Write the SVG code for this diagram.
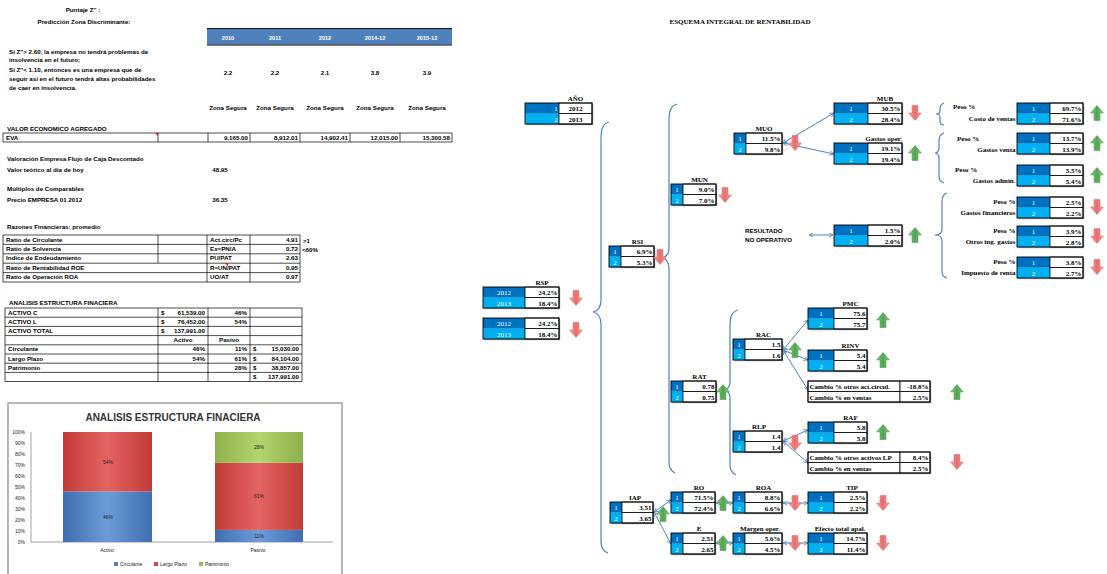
<svg xmlns="http://www.w3.org/2000/svg" width="1107" height="574" viewBox="0 0 1107 574">
<style>
.l{font-family:"Liberation Sans",Arial,sans-serif;font-weight:bold;font-size:6.2px;fill:#000}
.ls{font-family:"Liberation Sans",Arial,sans-serif;font-size:5px;fill:#222}
.t{font-family:"Liberation Serif","Times New Roman",serif;font-weight:bold;font-size:7px;fill:#000}
.v{font-family:"Liberation Serif","Times New Roman",serif;font-weight:bold;font-size:7px;fill:#000;text-anchor:end}
.n{font-family:"Liberation Serif","Times New Roman",serif;font-size:7px;fill:#fff;text-anchor:middle}
.c1{fill:#0070c0}.c2{fill:#00b0f0}
.bx{fill:#fff;stroke:#000;stroke-width:0.8}
.ol{fill:none;stroke:#000;stroke-width:0.9}
.sh{fill:#a6a6a6}
.g{fill:none;stroke:#000;stroke-width:0.7}
.cn{fill:none;stroke:#4f81bd;stroke-width:1;marker-start:url(#ah);marker-end:url(#ah)}
.br{fill:none;stroke:#4f81bd;stroke-width:1.2}
.mid{text-anchor:middle}.end{text-anchor:end}
</style>
<defs>
<marker id="ah" viewBox="0 0 8 8" refX="7" refY="4" markerWidth="5" markerHeight="5" orient="auto-start-reverse"><path d="M0,0.5L7,4L0,7.5" fill="none" stroke="#4f81bd" stroke-width="1.3"/></marker>
<linearGradient id="rg" x1="0" x2="1"><stop offset="0" stop-color="#f4a3a3"/><stop offset="0.5" stop-color="#e86c6c"/><stop offset="1" stop-color="#f4a3a3"/></linearGradient>
<linearGradient id="gg" x1="0" x2="1"><stop offset="0" stop-color="#8fd08f"/><stop offset="0.5" stop-color="#4fa34f"/><stop offset="1" stop-color="#8fd08f"/></linearGradient>
<path id="dn" d="M-3,-7.5H3V0H6.5L0,7.5L-6.5,0H-3Z" fill="url(#rg)" stroke="#d46a6a" stroke-width="0.5"/>
<path id="up" d="M-3,7.5H3V0H6.5L0,-7.5L-6.5,0H-3Z" fill="url(#gg)" stroke="#4b8f4b" stroke-width="0.5"/>
<linearGradient id="bb" x1="0" x2="1"><stop offset="0" stop-color="#3f6fb0"/><stop offset="0.5" stop-color="#6c9bd8"/><stop offset="1" stop-color="#3f6fb0"/></linearGradient>
<linearGradient id="rb" x1="0" x2="1"><stop offset="0" stop-color="#c23b38"/><stop offset="0.5" stop-color="#e36461"/><stop offset="1" stop-color="#c23b38"/></linearGradient>
<linearGradient id="gb" x1="0" x2="1"><stop offset="0" stop-color="#8cb04b"/><stop offset="0.5" stop-color="#b3d46e"/><stop offset="1" stop-color="#8cb04b"/></linearGradient>
</defs>
<rect width="1107" height="574" fill="#fff"/>

<g id="zscore">
<text class="l" x="83" y="12" text-anchor="middle">Puntaje Z'' :</text>
<text class="l" x="84" y="24" text-anchor="middle">Predicción Zona Discriminante:</text>
<text class="l" x="9" y="54">Si Z''&gt; 2.60, la empresa no tendrá problemas de</text>
<text class="l" x="9" y="62">insolvencia en el futuro;</text>
<text class="l" x="9" y="72">Si Z''&lt; 1.10, entonces es una empresa que de</text>
<text class="l" x="9" y="81">seguir así en el futuro tendrá altas probabilidades</text>
<text class="l" x="9" y="90">de caer en insolvencia.</text>
<rect x="207" y="29" width="245" height="15.5" fill="#4f81bd"/>
<line x1="207" y1="28.6" x2="452" y2="28.6" stroke="#000" stroke-width="1"/>
<line x1="207" y1="45" x2="452" y2="45" stroke="#000" stroke-width="1"/>
<g font-family="Liberation Sans,Arial,sans-serif" font-size="5.6" font-weight="bold" fill="#fff" text-anchor="middle">
<text x="228" y="40">2010</text><text x="275" y="40">2011</text><text x="325" y="40">2012</text><text x="375" y="40">2014-12</text><text x="427" y="40">2015-12</text>
</g>
<g class="l" text-anchor="middle">
<text x="228" y="75">2.2</text><text x="275" y="75">2.2</text><text x="325" y="75">2.1</text><text x="375" y="75">3.8</text><text x="427" y="75">3.9</text>
<text x="228" y="110">Zona Segura</text><text x="275" y="110">Zona Segura</text><text x="325" y="110">Zona Segura</text><text x="375" y="110">Zona Segura</text><text x="427" y="110">Zona Segura</text>
</g>
</g>

<g id="eva">
<text class="l" x="7" y="131">VALOR ECONOMICO AGREGADO</text>
<rect class="g" x="3" y="133" width="449" height="9"/>
<path class="g" d="M158,133V142M208,133V142M250,133V142M300,133V142M350,133V142M400,133V142"/>
<path d="M155,133H158V136Z" fill="#e00"/>
<text class="l" x="6" y="140">EVA</text>
<g class="l" text-anchor="end" font-size="5.6">
<text x="248" y="140">9,165.00</text><text x="298" y="140">8,912.01</text><text x="348" y="140">14,902.41</text><text x="398" y="140">12,015.00</text><text x="450" y="140">15,300.58</text>
</g>
</g>

<g id="valoracion">
<text class="l" x="7" y="161">Valoración Empresa Flujo de Caja Descontado</text>
<text class="l" x="7" y="172">Valor teórico al día de hoy</text>
<text class="l" x="220" y="172" text-anchor="middle">48.95</text>
<text class="l" x="7" y="191">Múltiplos de Comparables</text>
<text class="l" x="7" y="202">Precio EMPRESA 01 2012</text>
<text class="l" x="220" y="202" text-anchor="middle">36.35</text>
</g>

<g id="ratios">
<text class="l" x="7" y="229" font-size="4.6">Razones Financieras: promedio</text>
<rect class="g" x="3" y="235" width="297" height="47"/>
<path class="g" d="M3,244.4H300M3,253.8H300M3,263.2H300M3,272.6H300M158,235V263.2M207,235V282M250,235V282"/>
<path d="M225,263.2H228V266.2Z" fill="#e00"/>
<g class="l" font-size="5">
<text x="6" y="241.6">Ratio de Circulante</text><text x="6" y="251">Ratio de Solvencia</text><text x="6" y="260.4">Indice de Endeudamiento</text><text x="6" y="269.8">Ratio de Rentabilidad ROE</text><text x="6" y="279.2">Ratio de Operación ROA</text>
<text x="210" y="241.6">Act.circ/Pc</text><text x="210" y="251">Ex=PN/A</text><text x="210" y="260.4">PU/PAT</text><text x="210" y="269.8">R=UN/PAT</text><text x="210" y="279.2">UO/AT</text>
</g>
<g class="l" font-size="5" text-anchor="end">
<text x="298" y="241.6">4.91</text><text x="298" y="251">0.72</text><text x="298" y="260.4">2.63</text><text x="298" y="269.8">0.95</text><text x="298" y="279.2">0.97</text>
</g>
<text class="l" x="303" y="243" font-size="5">&gt;1</text>
<text class="l" x="302" y="252" font-size="5">&lt;60%</text>
</g>

<g id="estructura">
<text class="l" x="9" y="305" font-size="5">ANALISIS ESTRUCTURA FINACIERA</text>
<rect class="g" x="5" y="308" width="297" height="73.6"/>
<path class="g" d="M5,317.2H302M5,326.4H302M5,335.6H302M5,344.8H302M5,354H302M5,363.2H302M5,372.4H302M158,308V381.6M208,308V381.6M250,308V381.6"/>
<g class="l" font-size="5">
<text x="8" y="314.6">ACTIVO C</text><text x="8" y="323.8">ACTIVO L</text><text x="8" y="333">ACTIVO TOTAL</text>
<text x="8" y="351.4">Circulante</text><text x="8" y="360.6">Largo Plazo</text><text x="8" y="369.8">Patrimonio</text>
<text x="161" y="314.6">$</text><text x="161" y="323.8">$</text><text x="161" y="333">$</text>
<text x="253" y="351.4">$</text><text x="253" y="360.6">$</text><text x="253" y="369.8">$</text><text x="253" y="379">$</text>
<text x="183" y="342.2" text-anchor="middle">Activo</text><text x="229" y="342.2" text-anchor="middle">Pasivo</text>
</g>
<g class="l" font-size="5" text-anchor="end">
<text x="205" y="314.6">61,539.00</text><text x="205" y="323.8">76,452.00</text><text x="205" y="333">137,991.00</text>
<text x="247" y="314.6">46%</text><text x="247" y="323.8">54%</text>
<text x="205" y="351.4">46%</text><text x="205" y="360.6">54%</text>
<text x="247" y="351.4">11%</text><text x="247" y="360.6">61%</text><text x="247" y="369.8">28%</text>
<text x="299" y="351.4">15,030.00</text><text x="299" y="360.6">84,104.00</text><text x="299" y="369.8">38,857.00</text><text x="299" y="379">137,991.00</text>
</g>
</g>

<g id="chart">
<rect x="8" y="403" width="334" height="180" fill="#fff" stroke="#a6a6a6" stroke-width="1.6"/>
<text x="173" y="421" text-anchor="middle" font-family="Liberation Sans,Arial,sans-serif" font-size="10" font-weight="bold" fill="#333">ANALISIS ESTRUCTURA FINACIERA</text>
<path d="M31,432V542H333" fill="none" stroke="#888" stroke-width="0.8"/>
<g class="ls" font-size="4.8" text-anchor="end">
<text x="25" y="434">100%</text><text x="25" y="445">90%</text><text x="25" y="456">80%</text><text x="25" y="467">70%</text><text x="25" y="478">60%</text><text x="25" y="489">50%</text><text x="25" y="500">40%</text><text x="25" y="511">30%</text><text x="25" y="522">20%</text><text x="25" y="533">10%</text><text x="25" y="544">0%</text>
</g>
<rect x="63" y="491.4" width="89" height="50.6" fill="url(#bb)"/>
<rect x="63" y="432" width="89" height="59.4" fill="url(#rb)"/>
<rect x="215" y="529.9" width="88" height="12.1" fill="url(#bb)"/>
<rect x="215" y="462.8" width="88" height="67.1" fill="url(#rb)"/>
<rect x="215" y="432" width="88" height="30.8" fill="url(#gb)"/>
<g class="ls" font-size="5" text-anchor="middle" fill="#222">
<text x="108" y="519">46%</text><text x="108" y="464">54%</text>
<text x="259" y="538">11%</text><text x="259" y="498">61%</text><text x="259" y="449">28%</text>
<text x="107" y="552">Activo</text><text x="258" y="552">Pasivo</text>
</g>
<rect x="114" y="562" width="4" height="4" fill="#4f81bd"/><text class="ls" x="120" y="566" font-size="4.8">Circulante</text>
<rect x="154" y="562" width="4" height="4" fill="#c0504d"/><text class="ls" x="160" y="566" font-size="4.8">Largo Plazo</text>
<rect x="199" y="562" width="4" height="4" fill="#9bbb59"/><text class="ls" x="205" y="566" font-size="4.8">Patrimonio</text>
</g>

<text class="t" x="740" y="24" text-anchor="middle" font-size="8.2">ESQUEMA INTEGRAL DE RENTABILIDAD</text>

<g id="connectors">
<path class="br" d="M609,122C602,124 601,130 601,140L601,300C601,308 598,311 593,312C598,313 601,316 601,324L601,540C601,548 603,551 608,553"/>
<path class="br" d="M677,104C670,106 669,112 669,122L669,248C669,254 666,257 662,258C666,259 669,262 669,268L669,462C669,468 671,471 675,473"/>
<path class="br" d="M738,310C731,312 730,318 730,326L730,382C730,387 728,389 724,390C728,391 730,393 730,398L730,465C730,470 732,473 736,475"/>
<path class="br" d="M944,103C941,104 940,106 940,109L940,111C940,113 938,114 936,114C938,114 940,115 940,117L940,121C940,123 941,125 944,125"/>
<path class="br" d="M944,133C940,134 939,137 939,141L939,148C939,151 937,153 935,153C937,153 939,155 939,158L939,176C939,180 940,182 944,183"/>
<path class="br" d="M947,193C943,194 942,197 942,202L942,229C942,233 939,235 935,235C939,235 942,237 942,241L942,270C942,275 943,277 947,278"/>
<line class="cn" x1="783" y1="143" x2="834" y2="113"/>
<line class="cn" x1="783" y1="143" x2="834" y2="154"/>
<line class="cn" x1="809" y1="235" x2="833" y2="235"/>
<line class="cn" x1="783" y1="350" x2="808" y2="320"/>
<line class="cn" x1="783" y1="350" x2="808" y2="360"/>
<line class="cn" x1="783" y1="350" x2="808" y2="390"/>
<line class="cn" x1="783" y1="441" x2="808" y2="430"/>
<line class="cn" x1="783" y1="441" x2="808" y2="463"/>
<line class="cn" x1="654" y1="512" x2="671" y2="500"/>
<line class="cn" x1="654" y1="512" x2="671" y2="544"/>
<line class="cn" x1="716" y1="503" x2="733" y2="503"/>
<line class="cn" x1="783" y1="503" x2="808" y2="503"/>
<line class="cn" x1="716" y1="543" x2="733" y2="543"/>
<line class="cn" x1="783" y1="543" x2="808" y2="543"/>
</g>

<g id="anio" transform="translate(525,103)">
<rect class="sh" x="1.2" y="1.2" width="67" height="21"/>
<rect class="c1" width="34" height="10.5"/><rect class="c2" y="10.5" width="34" height="10.5"/>
<rect class="bx" x="34" width="33" height="10.5"/><rect class="bx" x="34" y="10.5" width="33" height="10.5"/>
<rect class="ol" width="67" height="21"/>
<text class="n" x="31" y="8" text-anchor="end">1</text><text class="n" x="31" y="18.5" text-anchor="end">2</text>
<text class="t mid" x="50.5" y="-2.5">AÑO</text>
<text class="t mid" x="50.5" y="8">2012</text><text class="t mid" x="50.5" y="18.5">2013</text>
</g>

<g id="muo" transform="translate(734,133)">
<rect class="sh" x="1.2" y="1.2" width="48" height="21"/>
<rect class="c1" width="12" height="10.5"/><rect class="c2" y="10.5" width="12" height="10.5"/>
<rect class="bx" x="12" width="36" height="10.5"/><rect class="bx" x="12" y="10.5" width="36" height="10.5"/>
<rect class="ol" width="48" height="21"/>
<text class="n" x="6" y="8">1</text><text class="n" x="6" y="18.5">2</text>
<text class="t mid" x="30" y="-2.5">MUO</text>
<text class="v" x="46.5" y="8">11.5%</text><text class="v" x="46.5" y="18.5">9.8%</text>
<use href="#dn" x="61" y="10"/>
</g>

<g id="mub" transform="translate(834,103)">
<rect class="sh" x="1.2" y="1.2" width="68" height="21"/>
<rect class="c1" width="34" height="10.5"/><rect class="c2" y="10.5" width="34" height="10.5"/>
<rect class="bx" x="34" width="34" height="10.5"/><rect class="bx" x="34" y="10.5" width="34" height="10.5"/>
<rect class="ol" width="68" height="21"/>
<text class="n" x="17" y="8">1</text><text class="n" x="17" y="18.5">2</text>
<text class="t mid" x="51" y="-2.5">MUB</text>
<text class="v" x="66.5" y="8">30.5%</text><text class="v" x="66.5" y="18.5">28.4%</text>
<use href="#dn" x="81" y="10"/>
</g>

<g id="gastos-oper" transform="translate(834,143)">
<rect class="sh" x="1.2" y="1.2" width="68" height="21"/>
<rect class="c1" width="34" height="10.5"/><rect class="c2" y="10.5" width="34" height="10.5"/>
<rect class="bx" x="34" width="34" height="10.5"/><rect class="bx" x="34" y="10.5" width="34" height="10.5"/>
<rect class="ol" width="68" height="21"/>
<text class="n" x="17" y="8">1</text><text class="n" x="17" y="18.5">2</text>
<text class="t end" x="68" y="-2.5">Gastos oper.</text>
<text class="v" x="66.5" y="8">19.1%</text><text class="v" x="66.5" y="18.5">19.4%</text>
<use href="#up" x="81" y="10"/>
</g>

<g id="resultado-no-operativo" transform="translate(834,225)">
<text class="l" x="-89" y="8" font-size="5.4">RESULTADO</text>
<text class="l" x="-89" y="17" font-size="5.4">NO OPERATIVO</text>
<rect class="sh" x="1.2" y="1.2" width="68" height="21"/>
<rect class="c1" width="34" height="10.5"/><rect class="c2" y="10.5" width="34" height="10.5"/>
<rect class="bx" x="34" width="34" height="10.5"/><rect class="bx" x="34" y="10.5" width="34" height="10.5"/>
<rect class="ol" width="68" height="21"/>
<text class="n" x="17" y="8">1</text><text class="n" x="17" y="18.5">2</text>
<text class="v" x="66.5" y="8">1.5%</text><text class="v" x="66.5" y="18.5">2.0%</text>
<use href="#up" x="81" y="10"/>
</g>

<g id="costo-ventas" transform="translate(1017,103)">
<text class="t" x="-64" y="6">Peso %</text><text class="t end" x="-1.5" y="18">Costo de ventas</text>
<rect class="sh" x="1.2" y="1.2" width="66" height="21"/>
<rect class="c1" width="33" height="10.5"/><rect class="c2" y="10.5" width="33" height="10.5"/>
<rect class="bx" x="33" width="33" height="10.5"/><rect class="bx" x="33" y="10.5" width="33" height="10.5"/>
<rect class="ol" width="66" height="21"/>
<text class="n" x="16.5" y="8">1</text><text class="n" x="16.5" y="18.5">2</text>
<text class="v" x="64.5" y="8">69.7%</text><text class="v" x="64.5" y="18.5">71.6%</text>
<use href="#up" x="80" y="10"/>
</g>

<g id="gastos-venta" transform="translate(1017,133)">
<text class="t" x="-60" y="8">Peso %</text><text class="t end" x="-1.5" y="18.5">Gastos venta</text>
<rect class="sh" x="1.2" y="1.2" width="66" height="21"/>
<rect class="c1" width="33" height="10.5"/><rect class="c2" y="10.5" width="33" height="10.5"/>
<rect class="bx" x="33" width="33" height="10.5"/><rect class="bx" x="33" y="10.5" width="33" height="10.5"/>
<rect class="ol" width="66" height="21"/>
<text class="n" x="16.5" y="8">1</text><text class="n" x="16.5" y="18.5">2</text>
<text class="v" x="64.5" y="8">13.7%</text><text class="v" x="64.5" y="18.5">13.9%</text>
<use href="#up" x="80" y="10"/>
</g>

<g id="gastos-admin" transform="translate(1017,165)">
<text class="t" x="-62" y="7">Peso %</text><text class="t end" x="-1.5" y="18">Gastos admin.</text>
<rect class="sh" x="1.2" y="1.2" width="66" height="21"/>
<rect class="c1" width="33" height="10.5"/><rect class="c2" y="10.5" width="33" height="10.5"/>
<rect class="bx" x="33" width="33" height="10.5"/><rect class="bx" x="33" y="10.5" width="33" height="10.5"/>
<rect class="ol" width="66" height="21"/>
<text class="n" x="16.5" y="8">1</text><text class="n" x="16.5" y="18.5">2</text>
<text class="v" x="64.5" y="8">5.5%</text><text class="v" x="64.5" y="18.5">5.4%</text>
<use href="#up" x="80" y="10"/>
</g>

<g id="gastos-financieros" transform="translate(1017,197)">
<text class="t end" x="-1.5" y="7">Peso %</text><text class="t end" x="-1.5" y="18">Gastos financieros</text>
<rect class="sh" x="1.2" y="1.2" width="66" height="21"/>
<rect class="c1" width="33" height="10.5"/><rect class="c2" y="10.5" width="33" height="10.5"/>
<rect class="bx" x="33" width="33" height="10.5"/><rect class="bx" x="33" y="10.5" width="33" height="10.5"/>
<rect class="ol" width="66" height="21"/>
<text class="n" x="16.5" y="8">1</text><text class="n" x="16.5" y="18.5">2</text>
<text class="v" x="64.5" y="8">2.5%</text><text class="v" x="64.5" y="18.5">2.2%</text>
<use href="#dn" x="80" y="10"/>
</g>

<g id="otros-ing-gastos" transform="translate(1017,226)">
<text class="t end" x="-1.5" y="7">Peso %</text><text class="t end" x="-1.5" y="18">Otros ing. gastos</text>
<rect class="sh" x="1.2" y="1.2" width="66" height="21"/>
<rect class="c1" width="33" height="10.5"/><rect class="c2" y="10.5" width="33" height="10.5"/>
<rect class="bx" x="33" width="33" height="10.5"/><rect class="bx" x="33" y="10.5" width="33" height="10.5"/>
<rect class="ol" width="66" height="21"/>
<text class="n" x="16.5" y="8">1</text><text class="n" x="16.5" y="18.5">2</text>
<text class="v" x="64.5" y="8">3.9%</text><text class="v" x="64.5" y="18.5">2.8%</text>
<use href="#dn" x="80" y="10"/>
</g>

<g id="impuesto-renta" transform="translate(1017,257)">
<text class="t end" x="-1.5" y="7">Peso %</text><text class="t end" x="-1.5" y="18">Impuesto de renta</text>
<rect class="sh" x="1.2" y="1.2" width="66" height="21"/>
<rect class="c1" width="33" height="10.5"/><rect class="c2" y="10.5" width="33" height="10.5"/>
<rect class="bx" x="33" width="33" height="10.5"/><rect class="bx" x="33" y="10.5" width="33" height="10.5"/>
<rect class="ol" width="66" height="21"/>
<text class="n" x="16.5" y="8">1</text><text class="n" x="16.5" y="18.5">2</text>
<text class="v" x="64.5" y="8">3.8%</text><text class="v" x="64.5" y="18.5">2.7%</text>
<use href="#dn" x="80" y="10"/>
</g>

<g id="mun" transform="translate(671,184)">
<rect class="sh" x="1.2" y="1.2" width="45" height="21"/>
<rect class="c1" width="12" height="10.5"/><rect class="c2" y="10.5" width="12" height="10.5"/>
<rect class="bx" x="12" width="33" height="10.5"/><rect class="bx" x="12" y="10.5" width="33" height="10.5"/>
<rect class="ol" width="45" height="21"/>
<text class="n" x="6" y="8">1</text><text class="n" x="6" y="18.5">2</text>
<text class="t mid" x="28.5" y="-2.5">MUN</text>
<text class="v" x="43.5" y="8">9.0%</text><text class="v" x="43.5" y="18.5">7.0%</text>
<use href="#dn" x="54" y="11"/>
</g>

<g id="rsi" transform="translate(609,246)">
<rect class="sh" x="1.2" y="1.2" width="45" height="21"/>
<rect class="c1" width="12" height="10.5"/><rect class="c2" y="10.5" width="12" height="10.5"/>
<rect class="bx" x="12" width="33" height="10.5"/><rect class="bx" x="12" y="10.5" width="33" height="10.5"/>
<rect class="ol" width="45" height="21"/>
<text class="n" x="6" y="8">1</text><text class="n" x="6" y="18.5">2</text>
<text class="t mid" x="28.5" y="-2.5">RSI</text>
<text class="v" x="43.5" y="8">6.9%</text><text class="v" x="43.5" y="18.5">5.3%</text>
<use href="#dn" x="51" y="11"/>
</g>

<g id="rsp" transform="translate(483,287)">
<rect class="sh" x="1.2" y="1.2" width="76" height="21"/>
<rect class="c1" width="42" height="10.5"/><rect class="c2" y="10.5" width="42" height="10.5"/>
<rect class="bx" x="42" width="34" height="10.5"/><rect class="bx" x="42" y="10.5" width="34" height="10.5"/>
<rect class="ol" width="76" height="21"/>
<text class="n" x="21" y="8">2012</text><text class="n" x="21" y="18.5">2013</text>
<text class="t mid" x="59" y="-2.5">RSP</text>
<text class="v" x="74.5" y="8">24.2%</text><text class="v" x="74.5" y="18.5">18.4%</text>
<use href="#dn" x="93" y="11"/>
</g>

<g id="rsp-2" transform="translate(483,318)">
<rect class="sh" x="1.2" y="1.2" width="76" height="21"/>
<rect class="c1" width="42" height="10.5"/><rect class="c2" y="10.5" width="42" height="10.5"/>
<rect class="bx" x="42" width="34" height="10.5"/><rect class="bx" x="42" y="10.5" width="34" height="10.5"/>
<rect class="ol" width="76" height="21"/>
<text class="n" x="21" y="8">2012</text><text class="n" x="21" y="18.5">2013</text>
<text class="v" x="74.5" y="8">24.2%</text><text class="v" x="74.5" y="18.5">18.4%</text>
<use href="#dn" x="93" y="12"/>
</g>

<g id="rat" transform="translate(671,381)">
<rect class="sh" x="1.2" y="1.2" width="45" height="21"/>
<rect class="c1" width="12" height="10.5"/><rect class="c2" y="10.5" width="12" height="10.5"/>
<rect class="bx" x="12" width="33" height="10.5"/><rect class="bx" x="12" y="10.5" width="33" height="10.5"/>
<rect class="ol" width="45" height="21"/>
<text class="n" x="6" y="8">1</text><text class="n" x="6" y="18.5">2</text>
<text class="t mid" x="28.5" y="-2.5">RAT</text>
<text class="v" x="43.5" y="8">0.78</text><text class="v" x="43.5" y="18.5">0.75</text>
<use href="#up" x="52" y="11"/>
</g>

<g id="rac" transform="translate(733,339)">
<rect class="sh" x="1.2" y="1.2" width="49" height="21"/>
<rect class="c1" width="12" height="10.5"/><rect class="c2" y="10.5" width="12" height="10.5"/>
<rect class="bx" x="12" width="37" height="10.5"/><rect class="bx" x="12" y="10.5" width="37" height="10.5"/>
<rect class="ol" width="49" height="21"/>
<text class="n" x="6" y="8">1</text><text class="n" x="6" y="18.5">2</text>
<text class="t mid" x="30.5" y="-2.5">RAC</text>
<text class="v" x="47.5" y="8">1.5</text><text class="v" x="47.5" y="18.5">1.6</text>
<use href="#up" x="62" y="11"/>
</g>

<g id="pmc" transform="translate(808,308)">
<rect class="sh" x="1.2" y="1.2" width="59" height="21"/>
<rect class="c1" width="26" height="10.5"/><rect class="c2" y="10.5" width="26" height="10.5"/>
<rect class="bx" x="26" width="33" height="10.5"/><rect class="bx" x="26" y="10.5" width="33" height="10.5"/>
<rect class="ol" width="59" height="21"/>
<text class="n" x="13" y="8">1</text><text class="n" x="13" y="18.5">2</text>
<text class="t mid" x="42.5" y="-2.5">PMC</text>
<text class="v" x="57.5" y="8">75.6</text><text class="v" x="57.5" y="18.5">75.7</text>
<use href="#up" x="75" y="12"/>
</g>

<g id="rinv" transform="translate(808,350)">
<rect class="sh" x="1.2" y="1.2" width="59" height="21"/>
<rect class="c1" width="26" height="10.5"/><rect class="c2" y="10.5" width="26" height="10.5"/>
<rect class="bx" x="26" width="33" height="10.5"/><rect class="bx" x="26" y="10.5" width="33" height="10.5"/>
<rect class="ol" width="59" height="21"/>
<text class="n" x="13" y="8">1</text><text class="n" x="13" y="18.5">2</text>
<text class="t mid" x="42.5" y="-2.5">RINV</text>
<text class="v" x="57.5" y="8">5.4</text><text class="v" x="57.5" y="18.5">5.4</text>
<use href="#up" x="75" y="10"/>
</g>

<g id="cambio-act-circ" transform="translate(808,381)">
<rect class="sh" x="1.2" y="1.2" width="122" height="21"/>
<rect class="bx" width="92" height="10.5"/><rect class="bx" y="10.5" width="92" height="10.5"/>
<rect class="bx" x="92" width="30" height="10.5"/><rect class="bx" x="92" y="10.5" width="30" height="10.5"/>
<rect class="ol" width="122" height="21"/>
<text class="t" x="1.5" y="8">Cambio % otros act.circul.</text><text class="t" x="1.5" y="18.5">Cambio % en ventas</text>
<text class="v" x="120.5" y="8">-18.8%</text><text class="v" x="120.5" y="18.5">2.5%</text>
<use href="#up" x="149" y="11"/>
</g>

<g id="rlp" transform="translate(733,431)">
<rect class="sh" x="1.2" y="1.2" width="49" height="21"/>
<rect class="c1" width="12" height="10.5"/><rect class="c2" y="10.5" width="12" height="10.5"/>
<rect class="bx" x="12" width="37" height="10.5"/><rect class="bx" x="12" y="10.5" width="37" height="10.5"/>
<rect class="ol" width="49" height="21"/>
<text class="n" x="6" y="8">1</text><text class="n" x="6" y="18.5">2</text>
<text class="t mid" x="26" y="-2.5">RLP</text>
<text class="v" x="47.5" y="8">1.4</text><text class="v" x="47.5" y="18.5">1.4</text>
<use href="#dn" x="62" y="12"/>
</g>

<g id="raf" transform="translate(808,422)">
<rect class="sh" x="1.2" y="1.2" width="59" height="21"/>
<rect class="c1" width="26" height="10.5"/><rect class="c2" y="10.5" width="26" height="10.5"/>
<rect class="bx" x="26" width="33" height="10.5"/><rect class="bx" x="26" y="10.5" width="33" height="10.5"/>
<rect class="ol" width="59" height="21"/>
<text class="n" x="13" y="8">1</text><text class="n" x="13" y="18.5">2</text>
<text class="t mid" x="42.5" y="-2.5">RAF</text>
<text class="v" x="57.5" y="8">5.8</text><text class="v" x="57.5" y="18.5">5.8</text>
<use href="#up" x="75" y="10"/>
</g>

<g id="cambio-act-lp" transform="translate(808,452)">
<rect class="sh" x="1.2" y="1.2" width="122" height="21"/>
<rect class="bx" width="92" height="10.5"/><rect class="bx" y="10.5" width="92" height="10.5"/>
<rect class="bx" x="92" width="30" height="10.5"/><rect class="bx" x="92" y="10.5" width="30" height="10.5"/>
<rect class="ol" width="122" height="21"/>
<text class="t" x="1.5" y="8">Cambio % otros activos LP</text><text class="t" x="1.5" y="18.5">Cambio % en ventas</text>
<text class="v" x="120.5" y="8">8.4%</text><text class="v" x="120.5" y="18.5">2.5%</text>
<use href="#dn" x="149" y="10"/>
</g>

<g id="iap" transform="translate(610,502)">
<rect class="sh" x="1.2" y="1.2" width="43" height="21"/>
<rect class="c1" width="12" height="10.5"/><rect class="c2" y="10.5" width="12" height="10.5"/>
<rect class="bx" x="12" width="31" height="10.5"/><rect class="bx" x="12" y="10.5" width="31" height="10.5"/>
<rect class="ol" width="43" height="21"/>
<text class="n" x="6" y="8">1</text><text class="n" x="6" y="18.5">2</text>
<text class="t mid" x="25" y="-2.5">IAP</text>
<text class="v" x="41.5" y="8">3.51</text><text class="v" x="41.5" y="18.5">3.65</text>
<use href="#up" x="53" y="12"/>
</g>

<g id="ro" transform="translate(671,492)">
<rect class="sh" x="1.2" y="1.2" width="44" height="21"/>
<rect class="c1" width="12" height="10.5"/><rect class="c2" y="10.5" width="12" height="10.5"/>
<rect class="bx" x="12" width="32" height="10.5"/><rect class="bx" x="12" y="10.5" width="32" height="10.5"/>
<rect class="ol" width="44" height="21"/>
<text class="n" x="6" y="8">1</text><text class="n" x="6" y="18.5">2</text>
<text class="t mid" x="28" y="-2.5">RO</text>
<text class="v" x="42.5" y="8">71.5%</text><text class="v" x="42.5" y="18.5">72.4%</text>
<use href="#up" x="52" y="11"/>
</g>

<g id="roa" transform="translate(733,492)">
<rect class="sh" x="1.2" y="1.2" width="49" height="21"/>
<rect class="c1" width="12" height="10.5"/><rect class="c2" y="10.5" width="12" height="10.5"/>
<rect class="bx" x="12" width="37" height="10.5"/><rect class="bx" x="12" y="10.5" width="37" height="10.5"/>
<rect class="ol" width="49" height="21"/>
<text class="n" x="6" y="8">1</text><text class="n" x="6" y="18.5">2</text>
<text class="t mid" x="30.5" y="-2.5">ROA</text>
<text class="v" x="47.5" y="8">8.8%</text><text class="v" x="47.5" y="18.5">6.6%</text>
<use href="#dn" x="62" y="11"/>
</g>

<g id="tip" transform="translate(808,492)">
<rect class="sh" x="1.2" y="1.2" width="59" height="21"/>
<rect class="c1" width="26" height="10.5"/><rect class="c2" y="10.5" width="26" height="10.5"/>
<rect class="bx" x="26" width="33" height="10.5"/><rect class="bx" x="26" y="10.5" width="33" height="10.5"/>
<rect class="ol" width="59" height="21"/>
<text class="n" x="13" y="8">1</text><text class="n" x="13" y="18.5">2</text>
<text class="t mid" x="44" y="-2.5">TIP</text>
<text class="v" x="57.5" y="8">2.5%</text><text class="v" x="57.5" y="18.5">2.2%</text>
<use href="#dn" x="75" y="11"/>
</g>

<g id="e" transform="translate(671,533)">
<rect class="sh" x="1.2" y="1.2" width="44" height="21"/>
<rect class="c1" width="12" height="10.5"/><rect class="c2" y="10.5" width="12" height="10.5"/>
<rect class="bx" x="12" width="32" height="10.5"/><rect class="bx" x="12" y="10.5" width="32" height="10.5"/>
<rect class="ol" width="44" height="21"/>
<text class="n" x="6" y="8">1</text><text class="n" x="6" y="18.5">2</text>
<text class="t mid" x="28" y="-2.5">E</text>
<text class="v" x="42.5" y="8">2.51</text><text class="v" x="42.5" y="18.5">2.65</text>
<use href="#up" x="52" y="10"/>
</g>

<g id="margen-oper" transform="translate(733,533)">
<rect class="sh" x="1.2" y="1.2" width="49" height="21"/>
<rect class="c1" width="12" height="10.5"/><rect class="c2" y="10.5" width="12" height="10.5"/>
<rect class="bx" x="12" width="37" height="10.5"/><rect class="bx" x="12" y="10.5" width="37" height="10.5"/>
<rect class="ol" width="49" height="21"/>
<text class="n" x="6" y="8">1</text><text class="n" x="6" y="18.5">2</text>
<text class="t mid" x="27" y="-2.5">Margen oper.</text>
<text class="v" x="47.5" y="8">5.6%</text><text class="v" x="47.5" y="18.5">4.5%</text>
<use href="#dn" x="62" y="10"/>
</g>

<g id="efecto-total" transform="translate(808,533)">
<rect class="sh" x="1.2" y="1.2" width="59" height="21"/>
<rect class="c1" width="26" height="10.5"/><rect class="c2" y="10.5" width="26" height="10.5"/>
<rect class="bx" x="26" width="33" height="10.5"/><rect class="bx" x="26" y="10.5" width="33" height="10.5"/>
<rect class="ol" width="59" height="21"/>
<text class="n" x="13" y="8">1</text><text class="n" x="13" y="18.5">2</text>
<text class="t mid" x="32" y="-2.5">Efecto total apal.</text>
<text class="v" x="57.5" y="8">14.7%</text><text class="v" x="57.5" y="18.5">11.4%</text>
<use href="#dn" x="75" y="10"/>
</g>
</svg>
